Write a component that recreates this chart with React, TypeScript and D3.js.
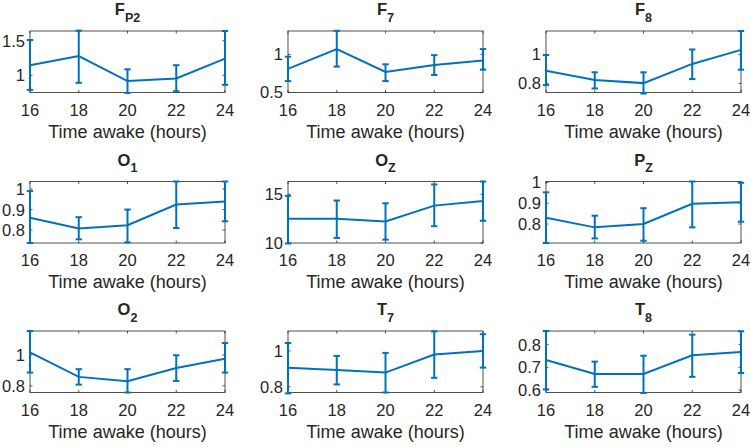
import React from "react";
import * as d3 from "d3";

// ---- data ----
const hours = [16, 18, 20, 22, 24];
const xTicks = [16, 18, 20, 22, 24];

const titleBase = ["F", "F", "F", "O", "O", "P", "O", "T", "T"];
const titleSub = ["P2", "7", "8", "1", "Z", "Z", "2", "7", "8"];

const meanFP2 = [1.146, 1.277, 0.917, 0.955, 1.242];
const upFP2 = [1.51, 1.646, 1.087, 1.146, 1.64];
const loFP2 = [0.79, 0.892, 0.746, 0.77, 0.863];

const meanF7 = [0.81, 1.07, 0.77, 0.86, 0.92];
const upF7 = [0.97, 1.31, 0.87, 0.99, 1.07];
const loF7 = [0.65, 0.84, 0.65, 0.73, 0.8];

const meanF8 = [0.888, 0.823, 0.802, 0.935, 1.032];
const upF8 = [0.997, 0.877, 0.877, 1.035, 1.163];
const loF8 = [0.788, 0.765, 0.73, 0.83, 0.895];

const meanO1 = [0.86, 0.808, 0.824, 0.925, 0.94];
const upO1 = [0.99, 0.863, 0.9, 1.037, 1.037];
const loO1 = [0.737, 0.755, 0.74, 0.81, 0.843];

const meanOZ = [12.49, 12.49, 12.2, 13.83, 14.3];
const upOZ = [14.83, 14.35, 14.07, 16.0, 16.3];
const loOZ = [9.95, 10.52, 10.34, 11.72, 12.28];

const meanPZ = [0.83, 0.784, 0.8, 0.897, 0.905];
const upPZ = [0.952, 0.84, 0.876, 1.004, 0.998];
const loPZ = [0.709, 0.731, 0.72, 0.784, 0.811];

const meanO2 = [1.017, 0.858, 0.83, 0.916, 0.976];
const upO2 = [1.155, 0.908, 0.908, 0.998, 1.077];
const loO2 = [0.886, 0.808, 0.757, 0.832, 0.886];

const meanT7 = [0.906, 0.893, 0.879, 0.98, 1.0];
const upT7 = [1.044, 0.972, 0.989, 1.109, 1.093];
const loT7 = [0.763, 0.813, 0.768, 0.85, 0.907];

const meanT8 = [0.732, 0.671, 0.671, 0.753, 0.768];
const upT8 = [0.86, 0.725, 0.751, 0.844, 0.859];
const loT8 = [0.603, 0.614, 0.587, 0.658, 0.675];

const yDomains = [
  [0.752, 1.64],
  [0.5, 1.307],
  [0.737, 1.163],
  [0.737, 1.037],
  [10, 16.3],
  [0.709, 1.004],
  [0.757, 1.155],
  [0.768, 1.111],
  [0.589, 0.86],
];

const yTicks = [
  [1, 1.5],
  [0.5, 1],
  [0.8, 1],
  [0.8, 0.9, 1],
  [10, 15],
  [0.8, 0.9, 1],
  [0.8, 1],
  [0.8, 1],
  [0.6, 0.7, 0.8],
];

const means = [meanFP2, meanF7, meanF8, meanO1, meanOZ, meanPZ, meanO2, meanT7, meanT8];
const uppers = [upFP2, upF7, upF8, upO1, upOZ, upPZ, upO2, upT7, upT8];
const lowers = [loFP2, loF7, loF8, loO1, loOZ, loPZ, loO2, loT7, loT8];

const xLabel = "Time awake (hours)";

// ---- layout ----
const W = 751;
const H = 447;
const lefts = [30, 288, 546];
const tops = [31, 181.5, 331];
const PW = 195;
const PH = 61.5;
const BLUE = "#0072BD";
const TXT = "#262626";
const FONT = "'Liberation Sans', Arial, Helvetica, sans-serif";

function Panel({ i }: { i: number }) {
  const col = i % 3;
  const row = Math.floor(i / 3);
  const x0 = lefts[col];
  const y0 = tops[row];
  const x = d3.scaleLinear().domain([16, 24]).range([x0, x0 + PW]);
  const y = d3.scaleLinear().domain(yDomains[i]).range([y0 + PH, y0]);
  const m = means[i];
  const up = uppers[i];
  const lo = lowers[i];
  const line = d3
    .line<number>()
    .x((_, k) => x(hours[k]))
    .y((v) => y(v));
  const tl = 2.5;
  const cap = 3.2;
  const fmt = (v: number) => String(v);
  return (
    <g>
      {/* box */}
      <rect x={x0} y={y0} width={PW} height={PH} fill="white" stroke={TXT} strokeWidth={0.8} />
      {/* x ticks */}
      {xTicks.map((t) => (
        <g key={"xt" + t}>
          <line x1={x(t)} x2={x(t)} y1={y0 + PH} y2={y0 + PH - tl} stroke={TXT} strokeWidth={0.8} />
          <line x1={x(t)} x2={x(t)} y1={y0} y2={y0 + tl} stroke={TXT} strokeWidth={0.8} />
          <text
            x={x(t)}
            y={y0 + PH + 23}
            textAnchor="middle"
            fontSize={16.5}
            fill={TXT}
            fontFamily={FONT}
          >
            {fmt(t)}
          </text>
        </g>
      ))}
      {/* y ticks */}
      {yTicks[i].map((t) => (
        <g key={"yt" + t}>
          <line x1={x0} x2={x0 + tl} y1={y(t)} y2={y(t)} stroke={TXT} strokeWidth={0.8} />
          <line x1={x0 + PW} x2={x0 + PW - tl} y1={y(t)} y2={y(t)} stroke={TXT} strokeWidth={0.8} />
          <text
            x={x0 - 5}
            y={y(t)}
            dy="0.36em"
            textAnchor="end"
            fontSize={16.5}
            fill={TXT}
            fontFamily={FONT}
          >
            {fmt(t)}
          </text>
        </g>
      ))}
      {/* series line */}
      <path d={line(m) || ""} fill="none" stroke={BLUE} strokeWidth={2} />
      {/* error bars */}
      {hours.map((h, k) => (
        <g key={"eb" + k} stroke={BLUE} strokeWidth={2}>
          <line x1={x(h)} x2={x(h)} y1={y(up[k])} y2={y(lo[k])} />
          <line x1={x(h) - cap} x2={x(h) + cap} y1={y(up[k])} y2={y(up[k])} />
          <line x1={x(h) - cap} x2={x(h) + cap} y1={y(lo[k])} y2={y(lo[k])} />
        </g>
      ))}
      {/* title */}
      <text
        x={x0 + PW / 2}
        y={y0 - 16}
        textAnchor="middle"
        fontFamily={FONT}
        fontWeight="bold"
        fill={TXT}
      >
        <tspan fontSize={16.5}>{titleBase[i]}</tspan>
        <tspan fontSize={12.5} dy={6.5}>
          {titleSub[i]}
        </tspan>
      </text>
      {/* x label */}
      <text
        x={x0 + PW / 2}
        y={y0 + PH + 45}
        textAnchor="middle"
        fontSize={18}
        fill={TXT}
        fontFamily={FONT}
      >
        {xLabel}
      </text>
    </g>
  );
}

export default function App() {
  return (
    <svg
      width={W}
      height={H}
      style={{ position: "absolute", left: 0, top: 0, background: "white" }}
    >
      <rect x={0} y={0} width={W} height={H} fill="white" />
      {d3.range(9).map((i) => (
        <Panel key={i} i={i} />
      ))}
    </svg>
  );
}
